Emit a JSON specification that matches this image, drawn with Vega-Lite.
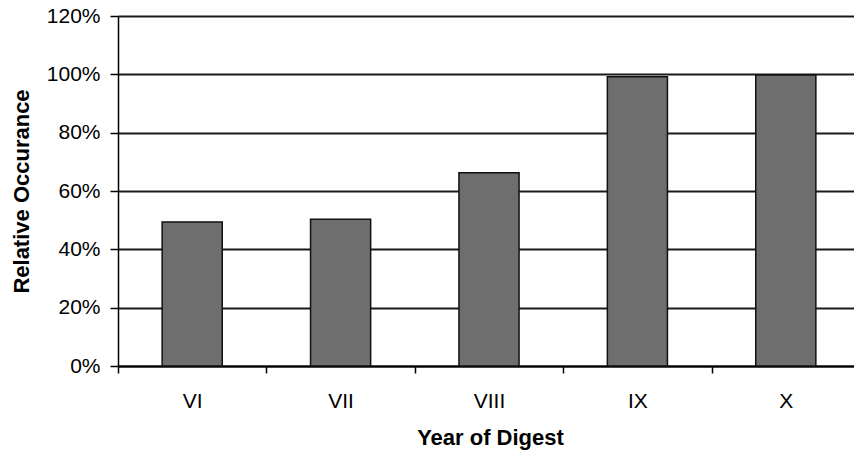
{
  "$schema": "https://vega.github.io/schema/vega-lite/v6.json",
  "autosize": "none",
  "width": 742,
  "height": 350,
  "padding": {"left": 118, "top": 16, "right": 0, "bottom": 84},
  "background": "white",
  "data": {
    "values": [
      {"year": "VI", "share": 0.494},
      {"year": "VII", "share": 0.503},
      {"year": "VIII", "share": 0.663},
      {"year": "IX", "share": 0.992},
      {"year": "X", "share": 0.998}
    ]
  },
  "mark": {"type": "bar", "width": {"band": 0.405}, "fill": "#6e6e6e", "stroke": "#111111", "strokeWidth": 1.5},
  "encoding": {
    "x": {
      "field": "year",
      "type": "nominal",
      "sort": ["VI", "VII", "VIII", "IX", "X"],
      "scale": {"paddingInner": 0, "paddingOuter": 0},
      "axis": {
        "title": "Year of Digest",
        "labelAngle": 0,
        "labelFont": "Liberation Sans",
        "labelFontSize": 21,
        "labelColor": "#000000",
        "labelBaseline": "alphabetic",
        "labelPadding": 34,
        "tickSize": 7,
        "tickBand": "extent",
        "tickColor": "#000000",
        "tickWidth": 1.5,
        "domainColor": "#000000",
        "domainWidth": 2,
        "grid": false,
        "titleFont": "Liberation Sans",
        "titleFontSize": 22,
        "titleFontWeight": "bold",
        "titleColor": "#000000",
        "titleBaseline": "alphabetic",
        "titleX": 372,
        "titleY": 78
      }
    },
    "y": {
      "field": "share",
      "type": "quantitative",
      "scale": {"domain": [0, 1.2], "nice": false},
      "axis": {
        "title": "Relative Occurance",
        "values": [0, 0.2, 0.4, 0.6, 0.8, 1.0, 1.2],
        "format": ".0%",
        "labelFont": "Liberation Sans",
        "labelFontSize": 21,
        "labelColor": "#000000",
        "labelPadding": 10,
        "tickSize": 8,
        "tickColor": "#000000",
        "tickWidth": 1.5,
        "domainColor": "#000000",
        "domainWidth": 1.5,
        "grid": true,
        "gridColor": "#1a1a1a",
        "gridWidth": 1.8,
        "titleFont": "Liberation Sans",
        "titleFontSize": 22,
        "titleFontWeight": "bold",
        "titleColor": "#000000",
        "titleBaseline": "alphabetic",
        "titleX": -90,
        "titleY": 175
      }
    }
  },
  "config": {"view": {"stroke": null}}
}
